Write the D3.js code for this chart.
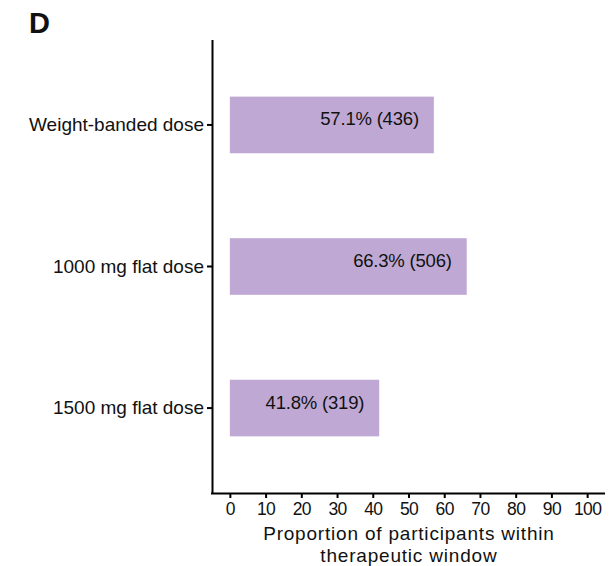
<!DOCTYPE html>
<html>
<head>
<meta charset="utf-8">
<script src="https://cdn.jsdelivr.net/npm/d3@7"></script>
<style>
  html, body { margin: 0; padding: 0; background: #fff; }
  text { font-family: "Liberation Sans", Arial, Helvetica, sans-serif; fill: #111; }
</style>
</head>
<body>
<svg id="chart" width="611" height="566"></svg>
<script>
const categories = ["Weight-banded dose", "1000 mg flat dose", "1500 mg flat dose"];
const percentValues = [57.1, 66.3, 41.8];
const counts = [436, 506, 319];
const xTicks = [0, 10, 20, 30, 40, 50, 60, 70, 80, 90, 100];
const panelLabel = "D";
const xTitleLines = ["Proportion of participants within", "therapeutic window"];

const svg = d3.select("#chart");
const pLeft = 212, pRight = 605, pTop = 40, pBottom = 493;
const fam = '"Liberation Sans", Arial, Helvetica, sans-serif';

const x = d3.scaleLinear().domain([-5, 105]).range([pLeft, pRight]);
const y = d3.scaleBand().domain(categories).range([pTop, pBottom])
  .paddingInner(0.6).paddingOuter(0.4);

const data = categories.map((c, i) => ({ cat: c, v: percentValues[i], n: counts[i] }));

// bars
svg.append("g").selectAll("rect").data(data).join("rect")
  .attr("x", x(0))
  .attr("y", d => y(d.cat))
  .attr("width", d => x(d.v) - x(0))
  .attr("height", y.bandwidth())
  .attr("fill", "#bfa9d4");

// bar labels
svg.append("g").selectAll("text").data(data).join("text")
  .attr("x", d => x(d.v) - 15)
  .attr("y", d => y(d.cat) + y.bandwidth() / 2 + 0.5)
  .attr("text-anchor", "end")
  .style("font-size", "18.5px")
  .style("letter-spacing", "-0.2px")
  .text(d => `${d.v.toFixed(1)}% (${d.n})`);

// x axis
const xAxis = svg.append("g").attr("transform", `translate(0,${pBottom})`)
  .call(d3.axisBottom(x).tickValues(xTicks).tickSize(5).tickPadding(5).tickSizeOuter(0));
xAxis.select(".domain").attr("stroke", "#000").attr("stroke-width", 2)
  .attr("d", `M${pLeft - 1},0.5H${pRight}`);
xAxis.selectAll(".tick line").attr("stroke", "#000").attr("stroke-width", 2);
xAxis.selectAll(".tick text").style("font-size", "17.5px")
  .style("letter-spacing", "-0.6px")
  .style("font-family", fam).attr("fill", "#111");

// y axis
const yAxis = svg.append("g").attr("transform", `translate(${pLeft},0)`)
  .call(d3.axisLeft(y).tickSize(5).tickPadding(3).tickSizeOuter(0));
yAxis.select(".domain").attr("stroke", "#000").attr("stroke-width", 2)
  .attr("d", `M0.5,${pTop}V${pBottom + 1}`);
yAxis.selectAll(".tick line").attr("stroke", "#000").attr("stroke-width", 2);
yAxis.selectAll(".tick text").style("font-size", "19px")
  .style("font-family", fam).attr("fill", "#111");

// x title
const xt = svg.append("text")
  .attr("text-anchor", "middle")
  .style("font-size", "19px")
  .style("letter-spacing", "0.8px");
xTitleLines.forEach((t, i) => {
  xt.append("tspan").attr("x", (pLeft + pRight) / 2 + 0.4).attr("y", 540 + i * 21.7).text(t);
});

// panel label
svg.append("text").attr("x", 29).attr("y", 33)
  .style("font-size", "29px").style("font-weight", "bold")
  .attr("fill", "#000").text(panelLabel);
</script>
</body>
</html>
